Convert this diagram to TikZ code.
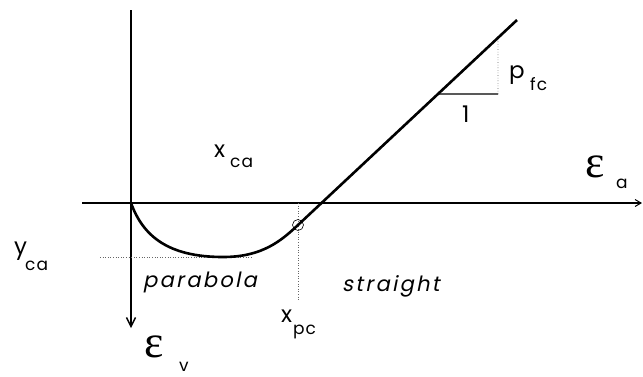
\documentclass[tikz,border=0pt]{standalone}
\usepackage{fontspec}
\newfontfamily\gothic[LetterSpace=6]{Poppins}
\newfontfamily\gothicit[LetterSpace=11,FakeSlant=0.2]{Poppins}
\newfontfamily\greek{Liberation Serif}
\usetikzlibrary{arrows.meta,calc}
\tikzset{
  lbl/.style={inner sep=0pt, anchor=base west, font=\gothic\fontsize{23}{23}\selectfont},
  sub/.style={inner sep=0pt, anchor=base west, font=\gothic\fontsize{17}{17}\selectfont},
  eps/.style={inner sep=0pt, anchor=base west, font=\greek\fontsize{46}{46}\selectfont},
  word/.style={inner sep=0pt, anchor=base west, font=\gothicit\fontsize{21}{21}\selectfont},
  axis/.style={line width=1.4pt},
  guide/.style={line width=0.6pt, dotted, black!60},
  curve/.style={line width=2.6pt, line join=round}
}
\begin{document}
\begin{tikzpicture}[x=1pt,y=-1pt]
\useasboundingbox (0,0) rectangle (643,376);
% axes
\coordinate (O) at (131,203);
\coordinate (vtop) at (131,10);
\coordinate (vbot) at (131,328);
\coordinate (hl) at (82,203);
\coordinate (hr) at (642,203);
\draw[axis, line width=2.2pt, -{Straight Barb[length=9pt,width=9pt,line width=1.4pt]}] (vtop) -- (vbot);
\draw[axis, -{Straight Barb[length=6pt,width=7pt,line width=1pt]}] (hl) -- (hr);
% guides
\coordinate (g1) at (100,257);
\coordinate (g2) at (253,257);
\draw[guide] (g1) -- (g2);
\coordinate (pc) at (298,225);
\coordinate (pcu) at (298,203);
\coordinate (pcd) at (298,300);
\draw[guide] (pcu) -- (pcd);
% curve
\coordinate (bm) at (223,257);
\coordinate (top) at (517,20);
\draw[curve] (O) .. controls (143,236) and (168,257) .. (bm)
  .. controls (262,257) and (281,241) .. (pc) -- (top);
\draw[line width=0.6pt] (pc) circle[radius=5.5];
% slope triangle
\coordinate (t1) at ($(pc)!0.639!(top)$);
\coordinate (t2) at (498,94);
\coordinate (t3) at ($(pc)!0.913!(top)$);
\draw[line width=1.2pt] (t1) -- (t2);
\draw[guide] (t2) -- (t3);
% labels
\node[lbl] (xca) at (214,157) {x};
\node[sub] (xcas) at (230,167) {ca};
\node[lbl] (yca) at (14,254) {y};
\node[sub] (ycas) at (25,270) {ca};
\node[lbl] (xpc) at (281,322) {x};
\node[sub] (xpcs) at (293,334) {pc};
\node[lbl] (pfc) at (509,78) {p};
\node[sub] (pfcs) at (530,90) {fc};
\node[lbl] (one) at (462,122) {1};
\node[eps] (ea) at (585,177) {ε};
\node[sub] (eas) at (616,188) {a};
\node[eps] (ev) at (144,357) {ε};
\node[sub] (evs) at (179,371) {v};
\node[word] (par) at (143,287) {parabola};
\node[word] (str) at (342,291) {straight};
\end{tikzpicture}
\end{document}
